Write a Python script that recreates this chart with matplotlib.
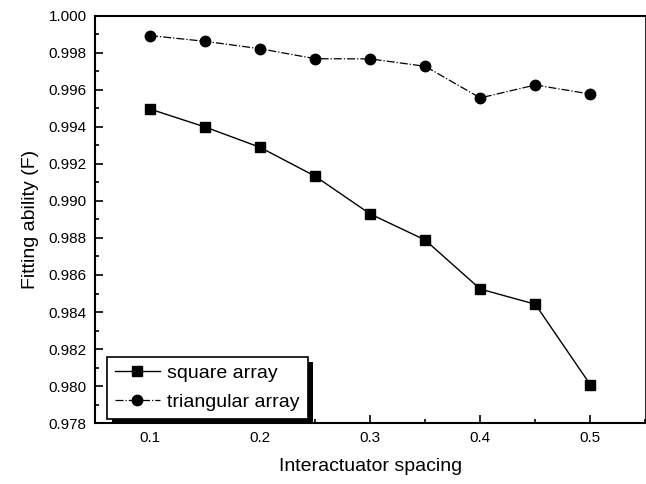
import matplotlib
matplotlib.use("Agg")
import matplotlib.pyplot as plt
from matplotlib.patches import Rectangle
from matplotlib.ticker import MultipleLocator, FormatStrFormatter

plt.rcParams['font.family'] = ['Liberation Sans', 'DejaVu Sans']

spacing = [0.10, 0.15, 0.20, 0.25, 0.30, 0.35, 0.40, 0.45, 0.50]
square_fit = [0.99497, 0.99400, 0.99290, 0.99134, 0.98930, 0.98789, 0.98524, 0.98442, 0.98007]
triangular_fit = [0.99894, 0.99863, 0.99823, 0.99769, 0.99768, 0.99728, 0.99557, 0.99627, 0.99578]

fig = plt.figure(figsize=(6.46, 4.84), dpi=100)
ax = fig.add_axes([0.147, 0.126, 0.852, 0.841])

ax.plot(spacing, square_fit, color="black", lw=1.0, marker="s", ms=6.5,
        label="square array")
ax.plot(spacing, triangular_fit, color="black", lw=0.9, ls="-.", marker="o", ms=7.5,
        label="triangular array")

ax.set_xlim(0.05, 0.55)
ax.set_ylim(0.978, 1.000)
ax.xaxis.set_major_locator(MultipleLocator(0.1))
ax.xaxis.set_minor_locator(MultipleLocator(0.05))
ax.yaxis.set_major_locator(MultipleLocator(0.002))
ax.yaxis.set_minor_locator(MultipleLocator(0.001))
ax.xaxis.set_major_formatter(FormatStrFormatter("%.1f"))
ax.yaxis.set_major_formatter(FormatStrFormatter("%.3f"))
ax.tick_params(which="both", direction="in", labelsize=11, width=1.2)
ax.tick_params(which="major", length=6, pad=6)
ax.tick_params(which="minor", length=3)
for s in ax.spines.values():
    s.set_linewidth(1.5)
ax.spines["right"].set_linewidth(0.6)

ax.set_xlabel("Interactuator spacing", fontsize=14, labelpad=9)
ax.set_ylabel("Fitting ability (F)", fontsize=14, labelpad=7)

leg = ax.legend(loc="lower left", bbox_to_anchor=(0.022, 0.01), borderaxespad=0,
                fontsize=14, handlelength=2.3, handletextpad=0.4, borderpad=0.4,
                labelspacing=0.6, fancybox=False, framealpha=1, edgecolor="black")
leg.get_frame().set_linewidth(1.2)
leg.set_zorder(5)

# solid drop shadow behind the legend box
fig.canvas.draw()
bb = leg.get_window_extent()
shadow = Rectangle((bb.x0 + 5, bb.y0 - 5), bb.width, bb.height, transform=None,
                   facecolor="black", edgecolor="none", zorder=4.9)
ax.add_patch(shadow)

fig.savefig("out.png", dpi=100)
